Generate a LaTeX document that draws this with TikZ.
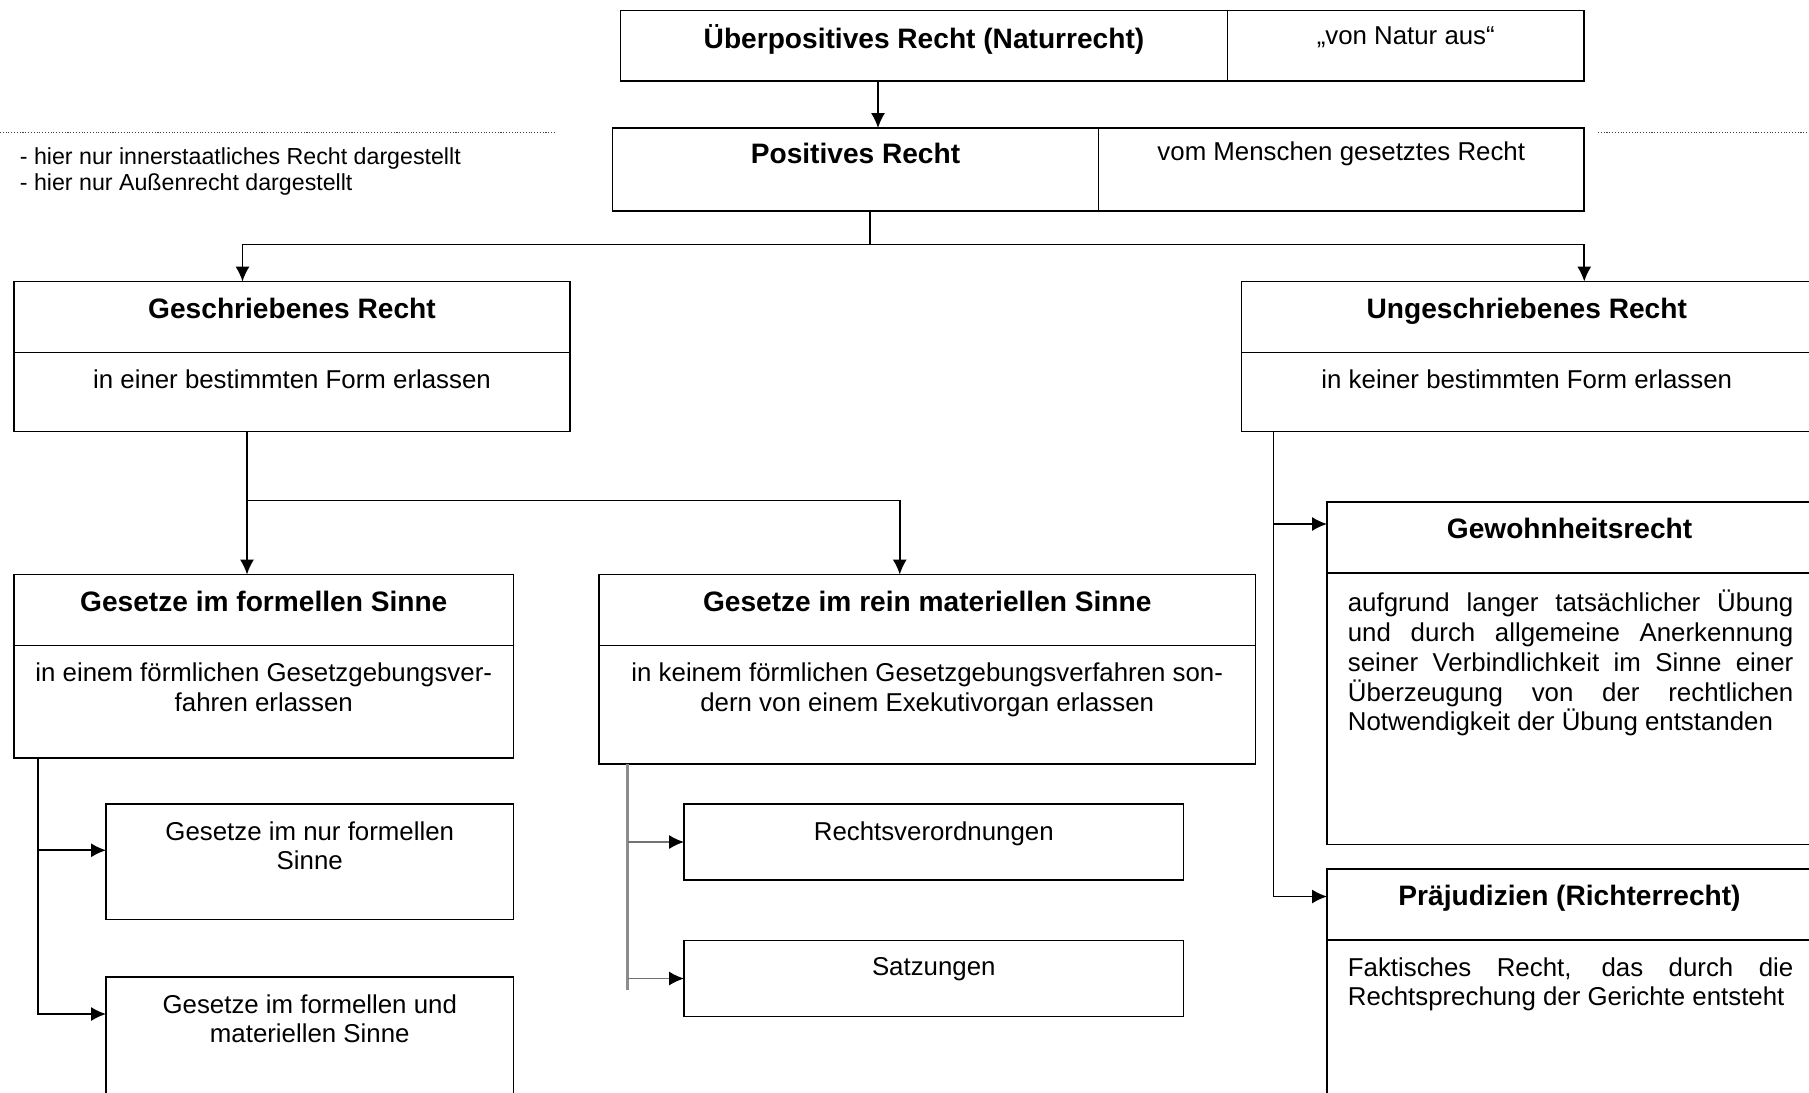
\documentclass[tikz,border=0pt]{standalone}
\usepackage{fontspec}
\setmainfont{Liberation Sans}
\usepackage{tikz}
\usetikzlibrary{arrows.meta,positioning}
\tolerance=10000
\hbadness=10000

\newcommand{\titelschrift}{\fontsize{16}{19}\selectfont\bfseries}
\newcommand{\textschrift}{\fontsize{14.7}{16.9}\selectfont}
\newcommand{\notizschrift}{\fontsize{13.2}{15.05}\selectfont}

\begin{document}
\begin{tikzpicture}[>={Latex[length=8.5pt,width=8pt]},
box/.style={rectangle, draw, line width=0.9pt, inner sep=0pt, outer sep=0pt, anchor=north west},
titel/.style={font=\titelschrift, inner sep=0pt, text height=12pt, text depth=4pt},
inhalt/.style={font=\textschrift, inner sep=0pt, align=center},
blocksatz/.style={font=\textschrift, inner sep=0pt, align=justify, text width=8.91cm, anchor=north west},
notiz/.style={font=\notizschrift, inner sep=0pt, align=left, anchor=north west},
paths/.style={->, line width=0.9pt},
graupfad/.style={-{Latex[length=8.5pt,width=8pt,color=black]}, line width=0.9pt, black!55},
stamm/.style={line width=1.2pt, black!45},
ebene/.style={densely dotted, line width=0.6pt, black!75}
]

\useasboundingbox (0,0) rectangle (36.18,-21.84);
\clip (0,0) rectangle (36.18,-21.84);

%% Kaesten %%%%%%%%%%%%%%%%%%%%%%%%%%%%%%%%%%%%%%%%%%%%%%%%%%%%%%%%%%%%%%%%%%%%%%%%

%% Kopf
\node [box, minimum width=12.14cm, minimum height=1.41cm] (UEBl) at (12.41,-0.21) {};
\node [box, minimum width=7.13cm, minimum height=1.41cm] (UEBr) [right=0pt of UEBl] {};
\node [box, minimum width=9.72cm, minimum height=1.66cm] (POSl) at (12.25,-2.56) {};
\node [box, minimum width=9.71cm, minimum height=1.66cm] (POSr) [right=0pt of POSl] {};

%% Geschrieben / Ungeschrieben
\node [box, minimum width=11.12cm, minimum height=3.00cm] (GR) at (0.28,-5.63) {};
\node [box, minimum width=11.41cm, minimum height=3.00cm] (UG) at (24.83,-5.63) {};

%% Gesetze
\node [box, minimum width=9.99cm, minimum height=3.67cm] (GF) at (0.28,-11.49) {};
\node [box, minimum width=13.13cm, minimum height=3.79cm] (RM) at (11.98,-11.49) {};
\node [box, minimum width=8.15cm, minimum height=2.31cm] (GN) at (2.12,-16.08) {};
\node [box, minimum width=8.15cm, minimum height=2.60cm] (GFM) at (2.12,-19.54) {};
\node [box, minimum width=9.99cm, minimum height=1.52cm] (RV) at (13.68,-16.08) {};
\node [box, minimum width=9.99cm, minimum height=1.52cm] (SA) at (13.68,-18.81) {};

%% Gewohnheitsrecht / Praejudizien
\node [box, minimum width=9.70cm, minimum height=6.85cm] (GW) at (26.54,-10.04) {};
\node [box, minimum width=9.70cm, minimum height=4.70cm] (PJ) at (26.54,-17.38) {};

%% Trennlinien
\foreach \b in {GR, UG, GF, RM, GW, PJ}
\draw [line width=0.9pt] ([yshift=-1.42cm]\b.north west) -- ([yshift=-1.42cm]\b.north east);

%% Texte %%%%%%%%%%%%%%%%%%%%%%%%%%%%%%%%%%%%%%%%%%%%%%%%%%%%%%%%%%%%%%%%%%%%%%%%%%

\node [titel] (UEBt) [below=0.33cm of UEBl.north] {Überpositives Recht (Naturrecht)};
\node [inhalt] (UEBs) [below=0.31cm of UEBr.north] {„von Natur aus“};
\node [titel] (POSt) [below=0.29cm of POSl.north] {Positives Recht};
\node [inhalt] (POSs) [below=0.26cm of POSr.north] {vom Menschen gesetztes Recht};

\node [titel] (GRt) [below=0.31cm of GR.north] {Geschriebenes Recht};
\node [inhalt] (GRb) [below=1.76cm of GR.north] {in einer bestimmten Form erlassen};
\node [titel] (UGt) [below=0.31cm of UG.north] {Ungeschriebenes Recht};
\node [inhalt] (UGb) [below=1.76cm of UG.north] {in keiner bestimmten Form erlassen};

\node [titel] (GFt) [below=0.31cm of GF.north] {Gesetze im formellen Sinne};
\node [inhalt] (GFb) [below=1.76cm of GF.north] {in einem förmlichen Gesetzgebungsver-\\fahren erlassen};
\node [titel] (RMt) [below=0.31cm of RM.north] {Gesetze im rein materiellen Sinne};
\node [inhalt] (RMb) [below=1.76cm of RM.north] {in keinem förmlichen Gesetzgebungsverfahren son-\\dern von einem Exekutivorgan erlassen};

\node [inhalt] (GNt) [below=0.34cm of GN.north] {Gesetze im nur formellen\\Sinne};
\node [inhalt] (GFMt) [below=0.34cm of GFM.north] {Gesetze im formellen und\\materiellen Sinne};
\node [inhalt] (RVt) [below=0.34cm of RV.north] {Rechtsverordnungen};
\node [inhalt] (SAt) [below=0.34cm of SA.north] {Satzungen};

\node [titel] (GWt) [below=0.31cm of GW.north] {Gewohnheitsrecht};
\node [blocksatz] (GWb) at ([xshift=0.41cm,yshift=-1.76cm]GW.north west) {aufgrund langer tatsächlicher Übung\linebreak und durch allgemeine Anerkennung\linebreak seiner Verbindlichkeit im Sinne einer\linebreak Überzeugung von der rechtlichen\linebreak Notwendigkeit der Übung entstanden};
\node [titel] (PJt) [below=0.31cm of PJ.north] {Präjudizien (Richterrecht)};
\node [blocksatz] (PJb) at ([xshift=0.41cm,yshift=-1.76cm]PJ.north west) {Faktisches Recht, das durch die\linebreak Rechtsprechung der Gerichte entsteht};

%% Hinweis
\node [notiz] (HINWEIS) at (0.39,-2.94) {- hier nur innerstaatliches Recht dargestellt\\- hier nur Außenrecht dargestellt};

%% Pfade %%%%%%%%%%%%%%%%%%%%%%%%%%%%%%%%%%%%%%%%%%%%%%%%%%%%%%%%%%%%%%%%%%%%%%%%%%

\draw [paths] ([xshift=-0.92cm]UEBl.south) -- ([xshift=0.45cm]POSl.north);

%% Positives Recht
\draw [line width=0.9pt] ([xshift=0.29cm]POSl.south) -- ++(0,-0.67) coordinate (j1);
\draw [paths] (j1) -| ([xshift=-0.99cm]GR.north);
\draw [paths] (j1) -| ([xshift=1.15cm]UG.north);

%% Geschriebenes Recht
\draw [line width=0.9pt] ([xshift=-0.90cm]GR.south) -- ++(0,-1.38) coordinate (j2);
\draw [paths] (j2) -- (j2 |- GF.north);
\draw [paths] (j2) -| ([xshift=-0.55cm]RM.north);

%% Gesetze im formellen Sinne
\draw [paths] ([xshift=0.48cm]GF.south west) |- ([yshift=0.23cm]GN.west);
\draw [paths] ([xshift=0.48cm]GF.south west) |- ([yshift=-0.74cm]GFM.north west);

%% Gesetze im rein materiellen Sinne
\draw [stamm] ([xshift=0.57cm]RM.south west) -- ++(0,-4.52) coordinate (j3);
\draw [graupfad] (RV.west -| j3) -- (RV.west);
\draw [graupfad] (SA.west -| j3) -- (SA.west);

%% Ungeschriebenes Recht
\draw [paths] ([xshift=0.64cm]UG.south west) |- ([yshift=-0.44cm]GW.north west);
\draw [paths] ([xshift=0.64cm]UG.south west) |- ([yshift=-0.55cm]PJ.north west);

%% Ebenen-Linien
\draw [ebene] (0,-2.65) -- (11.08,-2.65);
\draw [ebene] (31.96,-2.65) -- (36.18,-2.65);

\end{tikzpicture}
\end{document}
